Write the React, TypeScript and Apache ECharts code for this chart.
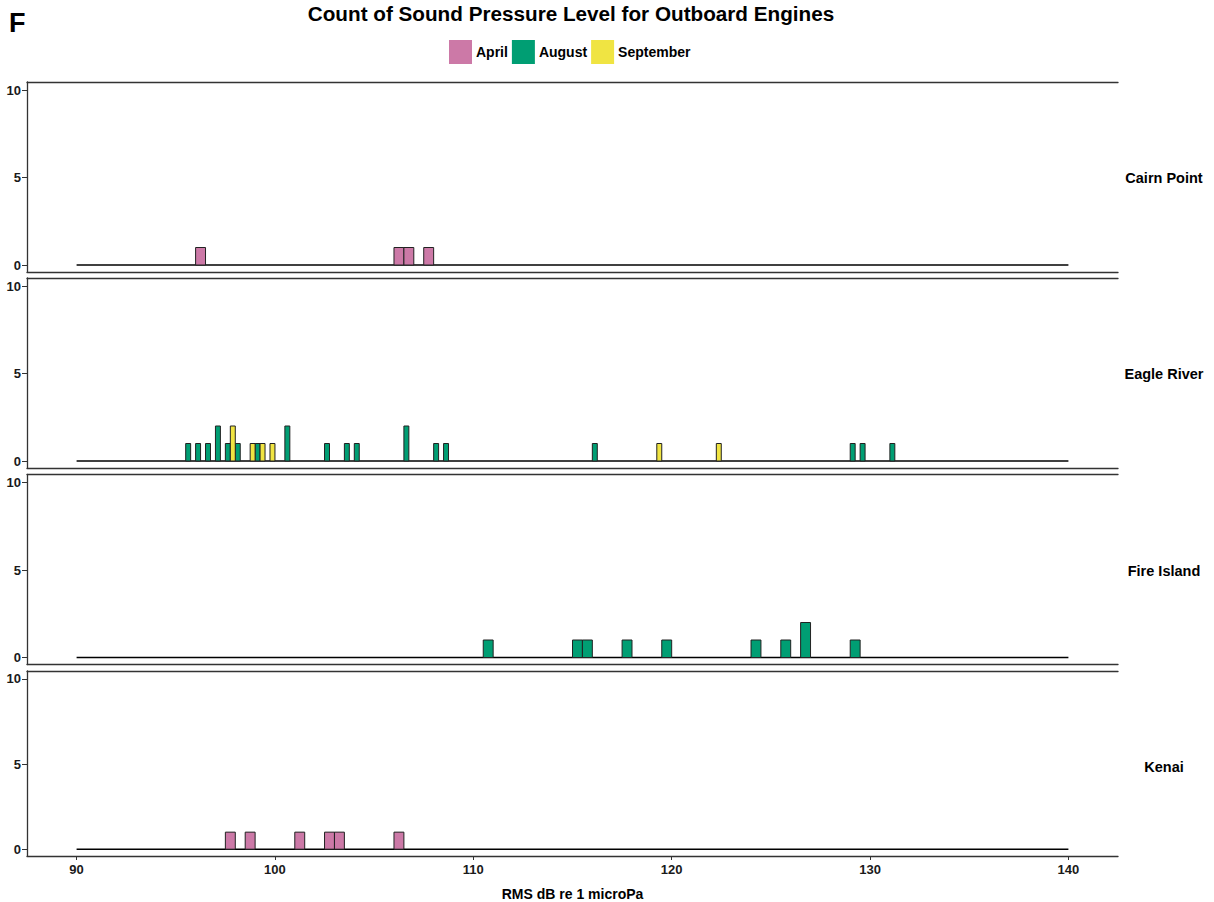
import React, { useEffect, useRef } from "react";
import * as echarts from "echarts";

// ---- data (bins are 0.5 dB wide, given by their left edge) ----
const panels = ["Cairn Point", "Eagle River", "Fire Island", "Kenai"];
const months = ["April", "August", "September"];
const monthColors = ["#CC79A7", "#009E73", "#F0E442"];
const binWidth = 0.5;

const cairnAprilBins = [96, 106, 106.5, 107.5];
const cairnAprilCounts = [1, 1, 1, 1];

const eagleAugustBins = [95.5, 96, 96.5, 97, 97.5, 98, 99, 100.5, 102.5, 103.5, 104, 106.5, 108, 108.5, 116, 129, 129.5, 131];
const eagleAugustCounts = [1, 1, 1, 2, 1, 1, 1, 2, 1, 1, 1, 2, 1, 1, 1, 1, 1, 1];
const eagleSeptemberBins = [97.5, 98.5, 99, 99.5, 119, 122];
const eagleSeptemberCounts = [2, 1, 1, 1, 1, 1];

const fireAugustBins = [110.5, 115, 115.5, 117.5, 119.5, 124, 125.5, 126.5, 129];
const fireAugustCounts = [1, 1, 1, 1, 1, 1, 1, 2, 1];

const kenaiAprilBins = [97.5, 98.5, 101, 102.5, 103, 106];
const kenaiAprilCounts = [1, 1, 1, 1, 1, 1];

const xTicks = [90, 100, 110, 120, 130, 140];
const yTicks = [0, 5, 10];
const histRange = [90, 140];

const title = "Count of Sound Pressure Level for Outboard Engines";
const xName = "RMS dB re 1 microPa";

// groups: [panelIndex, monthIndex, bins, counts, dodgeSlot (0 full, 1 left half, 2 right half)]
const groups: [number, number, number[], number[], number][] = [
  [0, 0, cairnAprilBins, cairnAprilCounts, 0],
  [1, 1, eagleAugustBins, eagleAugustCounts, 1],
  [1, 2, eagleSeptemberBins, eagleSeptemberCounts, 2],
  [2, 1, fireAugustBins, fireAugustCounts, 0],
  [3, 0, kenaiAprilBins, kenaiAprilCounts, 0],
];

const FONT = "'Liberation Sans', Arial, sans-serif";

export default function App() {
  const ref = useRef<HTMLDivElement>(null);
  useEffect(() => {
    if (!ref.current) return;
    const chart = echarts.init(ref.current, undefined, { renderer: "svg" });
    const gridTops = [82, 278, 474.5, 671];
    const gridH = 190;
    const grids = gridTops.map((t) => ({ left: 27, width: 1091, top: t, height: gridH }));
    const xAxes: any[] = [];
    const yAxes: any[] = [];
    panels.forEach((_, i) => {
      const last = i === panels.length - 1;
      xAxes.push({
        type: "value",
        gridIndex: i,
        min: 87.5,
        max: 142.5,
        position: "bottom",
        splitLine: { show: false },
        axisLine: { show: true, onZero: false, lineStyle: { color: "#333", width: 1.3 } },
        axisTick: { show: last, length: 4, customValues: xTicks, lineStyle: { color: "#333" } },
        axisLabel: {
          show: last,
          customValues: xTicks,
          margin: 7,
          fontFamily: FONT,
          fontWeight: "bold",
          fontSize: 13,
          color: "#1a1a1a",
        },
        name: last ? xName : "",
        nameLocation: "middle",
        nameGap: 31,
        nameTextStyle: { fontFamily: FONT, fontWeight: "bold", fontSize: 14, color: "#000" },
      });
      xAxes.push({
        type: "value",
        gridIndex: i,
        min: 87.5,
        max: 142.5,
        position: "top",
        splitLine: { show: false },
        axisLine: { show: true, onZero: false, lineStyle: { color: "#333", width: 1.3 } },
        axisTick: { show: false },
        axisLabel: { show: false },
      });
      yAxes.push({
        type: "value",
        gridIndex: i,
        min: -0.4,
        max: 10.46,
        splitLine: { show: false },
        axisLine: { show: true, onZero: false, lineStyle: { color: "#333", width: 1.3 } },
        axisTick: { show: true, length: 5, customValues: yTicks, lineStyle: { color: "#333" } },
        axisLabel: {
          customValues: yTicks,
          margin: 6,
          fontFamily: FONT,
          fontWeight: "bold",
          fontSize: 13,
          color: "#1a1a1a",
        },
      });
    });

    const series: any[] = [];
    panels.forEach((_, i) => {
      series.push({
        type: "line",
        xAxisIndex: i * 2,
        yAxisIndex: i,
        data: [[histRange[0], 0], [histRange[1], 0]],
        showSymbol: false,
        symbol: "none",
        lineStyle: { color: "#000", width: 1.5 },
        silent: true,
        z: 1,
        legendHoverLink: false,
      });
    });
    groups.forEach(([p, m, bins, counts, slot]) => {
      const color = monthColors[m];
      const data = bins.map((b, k) => {
        let x0 = b;
        let x1 = b + binWidth;
        if (slot === 1) x1 = b + binWidth / 2;
        if (slot === 2) x0 = b + binWidth / 2;
        return [x0, x1, counts[k]];
      });
      series.push({
        type: "custom",
        name: months[m],
        xAxisIndex: p * 2,
        yAxisIndex: p,
        itemStyle: { color },
        encode: { x: [0, 1], y: 2 },
        z: 3,
        data,
        renderItem: (params: any, api: any) => {
          const a = api.coord([api.value(0), 0]);
          const b = api.coord([api.value(1), api.value(2)]);
          return {
            type: "rect",
            shape: { x: a[0], y: b[1], width: b[0] - a[0], height: a[1] - b[1] },
            style: { fill: color, stroke: "#222", lineWidth: 1 },
          };
        },
      });
    });

    const stripGraphics = panels.map((name, i) => ({
      type: "text",
      x: 1164,
      y: gridTops[i] + 96,
      style: {
        text: name,
        font: `bold 14.5px ${FONT}`,
        fill: "#000",
        align: "center",
        verticalAlign: "middle",
      },
    }));

    chart.setOption({
      animation: false,
      backgroundColor: "#fff",
      grid: grids,
      xAxis: xAxes,
      yAxis: yAxes,
      legend: {
        left: 449,
        top: 40,
        padding: 0,
        itemWidth: 23,
        itemHeight: 24,
        itemGap: 4,
        icon: "rect",
        data: months.map((m, k) => ({ name: m, itemStyle: { color: monthColors[k], borderWidth: 0 } })),
        textStyle: { fontFamily: FONT, fontWeight: "bold", fontSize: 14, color: "#000", padding: [0, 0, 0, -1] },
        selectedMode: false,
      },
      graphic: [
        {
          type: "text",
          x: 571,
          y: 13,
          style: { text: title, font: `bold 20.7px ${FONT}`, fill: "#000", align: "center", verticalAlign: "middle" },
        },
        {
          type: "text",
          x: 9,
          y: 23,
          style: { text: "F", font: `bold 27px ${FONT}`, fill: "#000", align: "left", verticalAlign: "middle" },
        },
        ...stripGraphics,
      ],
      series,
    });
    return () => chart.dispose();
  }, []);
  return (
    <div
      ref={ref}
      style={{ position: "fixed", left: 0, top: 0, width: 1214, height: 902, background: "#fff" }}
    />
  );
}
